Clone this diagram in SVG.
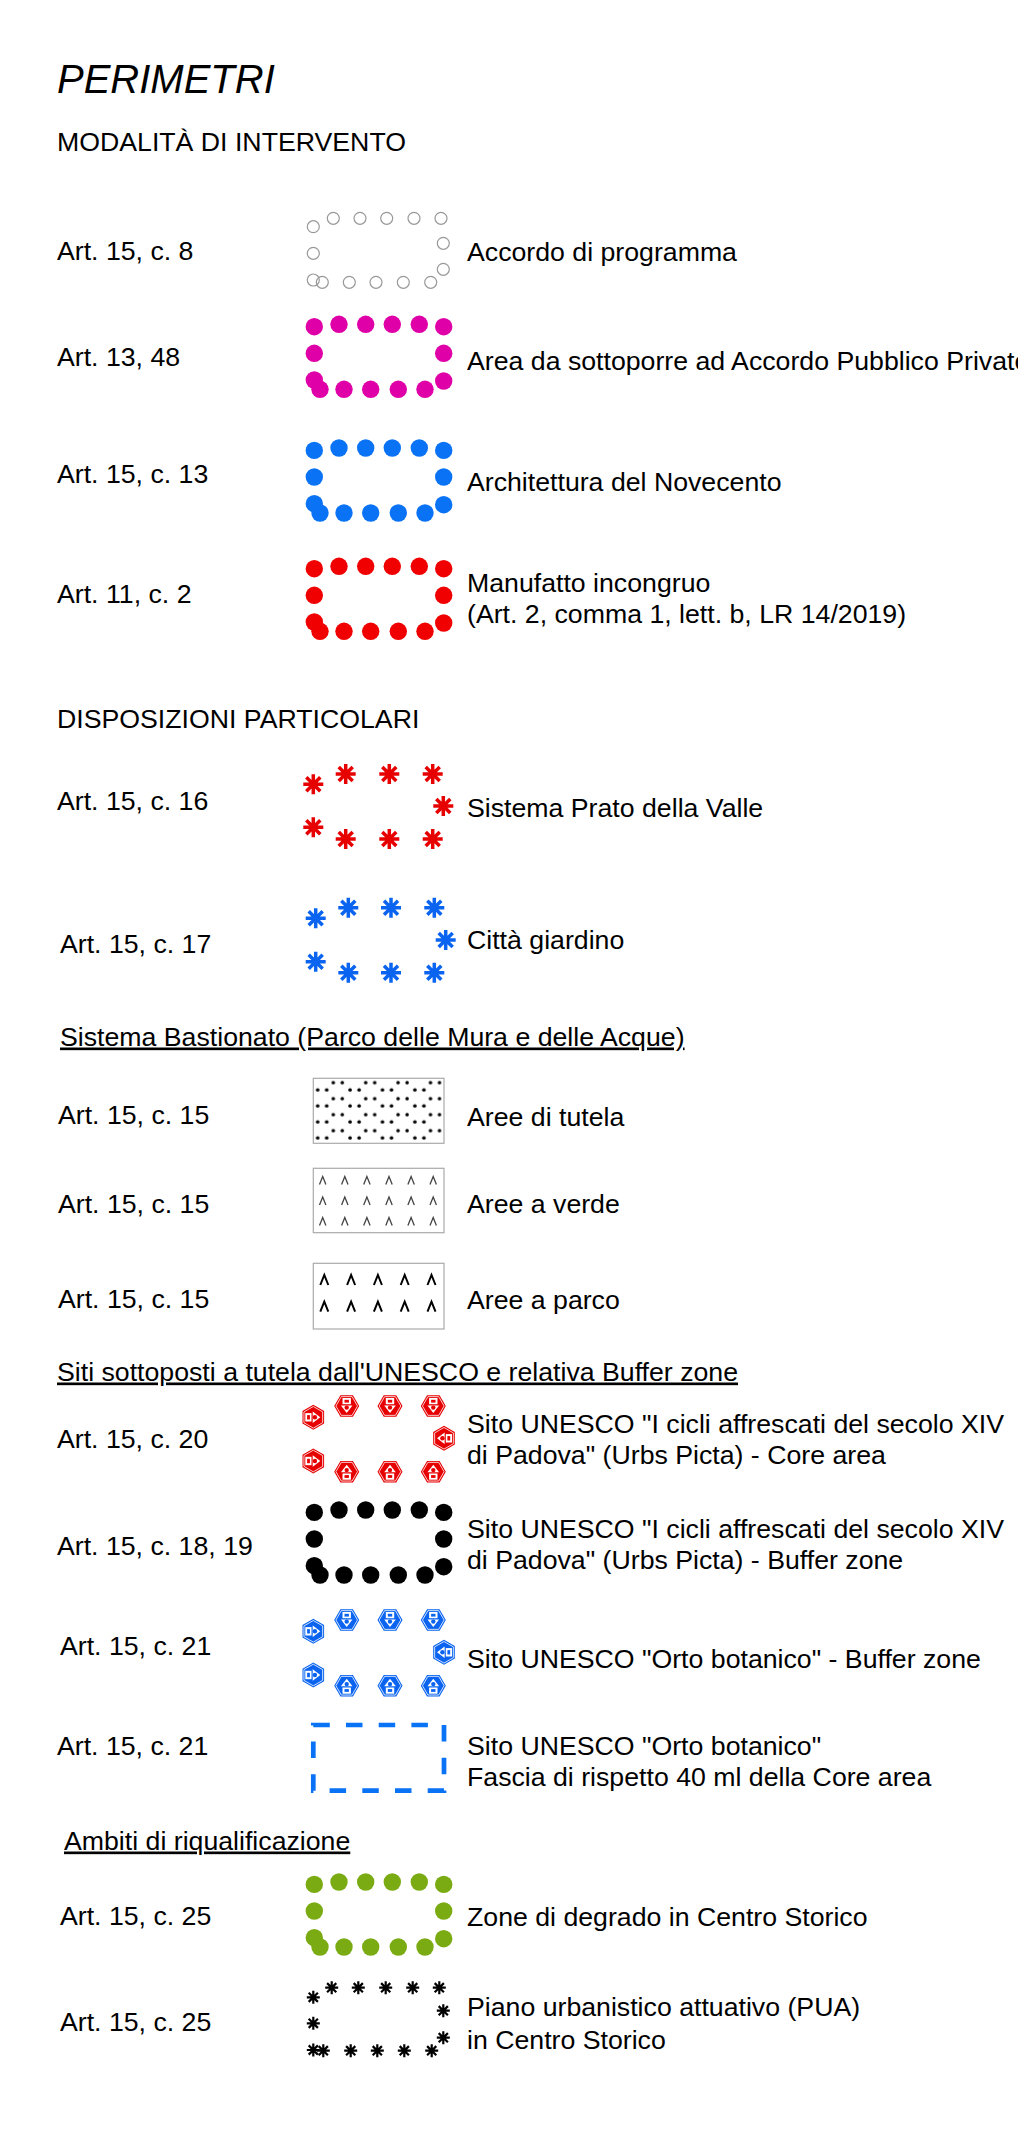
<svg xmlns="http://www.w3.org/2000/svg" xmlns:xlink="http://www.w3.org/1999/xlink" width="1018" height="2130" viewBox="0 0 1018 2130">
<style>
.t{font-family:"Liberation Sans",Arial,sans-serif;font-size:26.7px;fill:#000}
.h{font-style:italic;font-size:40px}
.u{text-decoration:underline}
</style>
<defs>
<g id="ring" >
<circle cx="0" cy="2.4" r="8.7"/><circle cx="0" cy="29" r="8.7"/><circle cx="0" cy="55.7" r="8.7"/>
<circle cx="24.7" cy="0" r="8.7"/><circle cx="51.4" cy="0" r="8.7"/><circle cx="78" cy="0" r="8.7"/><circle cx="105" cy="0" r="8.7"/>
<circle cx="129.4" cy="2.4" r="8.7"/><circle cx="129.4" cy="29" r="8.7"/><circle cx="129.4" cy="56.7" r="8.7"/>
<circle cx="5.7" cy="65" r="8.7"/><circle cx="29.7" cy="65" r="8.7"/><circle cx="56.4" cy="65" r="8.7"/><circle cx="84" cy="65" r="8.7"/><circle cx="110.7" cy="65" r="8.7"/>
</g>
<path id="ast" d="M0,-10V10M-10,0H10M-7,-7L7,7M-7,7L7,-7"/>
<path id="asts" d="M0,-6.5V6.5M-6.5,0H6.5M-4.6,-4.6L4.6,4.6M-4.6,4.6L4.6,-4.6"/>
<g id="hex">
<polygon points="12.5,0 6.25,10.8 -6.25,10.8 -12.5,0 -6.25,-10.8 6.25,-10.8" fill="currentColor"/>
<polygon points="10.8,0 5.4,9.35 -5.4,9.35 -10.8,0 -5.4,-9.35 5.4,-9.35" fill="none" stroke="#fff" stroke-width="0.8"/>
<rect x="-4.2" y="-8" width="8.4" height="6.2" fill="#fff"/>
<rect x="-2.2" y="-6.2" width="4.4" height="2.8" fill="currentColor"/>
<polygon points="-5.8,-0.6 5.8,-0.6 0,7" fill="#fff"/>
<circle cx="0" cy="1.6" r="2.2" fill="currentColor"/>
</g>
<pattern id="dots" patternUnits="userSpaceOnUse" x="313.7" y="1078.7" width="32.4" height="16">
<circle cx="4" cy="11.3" r="1.8" fill="#000"/><circle cx="13" cy="11.3" r="1.8" fill="#000"/>
<circle cx="19.6" cy="4" r="1.8" fill="#000"/><circle cx="28.6" cy="4" r="1.8" fill="#000"/>
</pattern>
<path id="chev" d="M-3.2,4L0,-4L3.2,4" fill="none" stroke="#444" stroke-width="1.3"/>
<path id="chevb" d="M-4,5L0,-5L4,5" fill="none" stroke="#000" stroke-width="2"/>
</defs>

<g id="titles">
<text class="t h" x="57" y="93">PERIMETRI</text>
<text class="t" x="57" y="151">MODALITÀ DI INTERVENTO</text>
<text class="t" x="57" y="727.5">DISPOSIZIONI PARTICOLARI</text>
<text class="t u" x="60" y="1045.5">Sistema Bastionato (Parco delle Mura e delle Acque)</text>
<text class="t u" x="57" y="1380.5">Siti sottoposti a tutela dall'UNESCO e relativa Buffer zone</text>
<text class="t u" x="64" y="1849.5">Ambiti di riqualificazione</text>
</g>

<g id="row1">
<text class="t" x="57" y="259.5">Art. 15, c. 8</text>
<g fill="none" stroke="#999" stroke-width="1.2" transform="translate(313.3,218.3)">
<circle cx="0" cy="8.4" r="6"/><circle cx="0" cy="35" r="6"/><circle cx="0" cy="61.7" r="6"/>
<circle cx="20" cy="0" r="6"/><circle cx="46.7" cy="0" r="6"/><circle cx="73.4" cy="0" r="6"/><circle cx="100.7" cy="0" r="6"/><circle cx="127.7" cy="0" r="6"/>
<circle cx="130" cy="25" r="6"/><circle cx="130" cy="51" r="6"/>
<circle cx="117.4" cy="64" r="6"/><circle cx="90" cy="64" r="6"/><circle cx="62.7" cy="64" r="6"/><circle cx="36" cy="64" r="6"/><circle cx="9" cy="64" r="6"/>
</g>
<text class="t" x="467" y="260.5">Accordo di programma</text>
</g>

<g id="row2">
<text class="t" x="57" y="365.5">Art. 13, 48</text>
<use href="#ring" x="314.3" y="324.3" fill="#e000a8"/>
<text class="t" x="467" y="369.5">Area da sottoporre ad Accordo Pubblico Privato</text>
</g>

<g id="row3">
<text class="t" x="57" y="482.5">Art. 15, c. 13</text>
<use href="#ring" x="314.3" y="448" fill="#0a72f5"/>
<text class="t" x="467" y="490.5">Architettura del Novecento</text>
</g>

<g id="row4">
<text class="t" x="57" y="602.5">Art. 11, c. 2</text>
<use href="#ring" x="314.3" y="566.3" fill="#f00000"/>
<text class="t" x="467" y="591.5">Manufatto incongruo</text>
<text class="t" x="467" y="622.5">(Art. 2, comma 1, lett. b, LR 14/2019)</text>
</g>

<g id="row5">
<text class="t" x="57" y="809.5">Art. 15, c. 16</text>
<g stroke="#e60000" stroke-width="3.5">
<use href="#ast" x="313.3" y="784.3"/><use href="#ast" x="345.7" y="774"/><use href="#ast" x="389.3" y="774"/><use href="#ast" x="432.7" y="774"/>
<use href="#ast" x="443.3" y="806"/><use href="#ast" x="313.3" y="827.3"/>
<use href="#ast" x="345.7" y="839"/><use href="#ast" x="389.3" y="839"/><use href="#ast" x="432.7" y="839"/>
</g>
<text class="t" x="467" y="816.5">Sistema Prato della Valle</text>
</g>

<g id="row6">
<text class="t" x="60" y="952.5">Art. 15, c. 17</text>
<g stroke="#0a64f0" stroke-width="3.5">
<use href="#ast" x="315.7" y="918.3"/><use href="#ast" x="348.3" y="907.7"/><use href="#ast" x="391" y="907.7"/><use href="#ast" x="434.3" y="907.7"/>
<use href="#ast" x="445.7" y="940"/><use href="#ast" x="315.7" y="961.7"/>
<use href="#ast" x="348.3" y="972.7"/><use href="#ast" x="391" y="972.7"/><use href="#ast" x="434.3" y="972.7"/>
</g>
<text class="t" x="467" y="948.5">Città giardino</text>
</g>

<g id="row7">
<text class="t" x="58" y="1123.5">Art. 15, c. 15</text>
<rect x="313.3" y="1078.3" width="130.7" height="65" fill="url(#dots)" stroke="#aaa" stroke-width="1.2"/>
<text class="t" x="467" y="1125.5">Aree di tutela</text>
</g>

<g id="row8">
<text class="t" x="58" y="1212.5">Art. 15, c. 15</text>
<rect x="313.3" y="1168.3" width="130.7" height="64.4" fill="none" stroke="#aaa" stroke-width="1.2"/>
<g>
<use href="#chev" x="322.7" y="1180.5"/><use href="#chev" x="344.8" y="1180.5"/><use href="#chev" x="366.9" y="1180.5"/><use href="#chev" x="389" y="1180.5"/><use href="#chev" x="411.1" y="1180.5"/><use href="#chev" x="433.2" y="1180.5"/>
<use href="#chev" x="322.7" y="1201"/><use href="#chev" x="344.8" y="1201"/><use href="#chev" x="366.9" y="1201"/><use href="#chev" x="389" y="1201"/><use href="#chev" x="411.1" y="1201"/><use href="#chev" x="433.2" y="1201"/>
<use href="#chev" x="322.7" y="1221.5"/><use href="#chev" x="344.8" y="1221.5"/><use href="#chev" x="366.9" y="1221.5"/><use href="#chev" x="389" y="1221.5"/><use href="#chev" x="411.1" y="1221.5"/><use href="#chev" x="433.2" y="1221.5"/>
</g>
<text class="t" x="467" y="1212.5">Aree a verde</text>
</g>

<g id="row9">
<text class="t" x="58" y="1307.5">Art. 15, c. 15</text>
<rect x="313.3" y="1263.3" width="130.7" height="65.7" fill="none" stroke="#aaa" stroke-width="1.2"/>
<g>
<use href="#chevb" x="324.3" y="1280"/><use href="#chevb" x="351.1" y="1280"/><use href="#chevb" x="377.9" y="1280"/><use href="#chevb" x="404.7" y="1280"/><use href="#chevb" x="431.5" y="1280"/>
<use href="#chevb" x="324.3" y="1306.7"/><use href="#chevb" x="351.1" y="1306.7"/><use href="#chevb" x="377.9" y="1306.7"/><use href="#chevb" x="404.7" y="1306.7"/><use href="#chevb" x="431.5" y="1306.7"/>
</g>
<text class="t" x="467" y="1308.5">Aree a parco</text>
</g>

<g id="row10">
<text class="t" x="57" y="1447.5">Art. 15, c. 20</text>
<g color="#e60000">
<use href="#hex" transform="translate(313.3,1417.3) rotate(-90)"/>
<use href="#hex" transform="translate(346.7,1406)"/><use href="#hex" transform="translate(390,1406)"/><use href="#hex" transform="translate(433.3,1406)"/>
<use href="#hex" transform="translate(444,1438.3) rotate(90)"/>
<use href="#hex" transform="translate(313.3,1461) rotate(-90)"/>
<use href="#hex" transform="translate(346.7,1471.7) rotate(180)"/><use href="#hex" transform="translate(390,1471.7) rotate(180)"/><use href="#hex" transform="translate(433.3,1471.7) rotate(180)"/>
</g>
<text class="t" x="467" y="1432.5">Sito UNESCO "I cicli affrescati del secolo XIV</text>
<text class="t" x="467" y="1463.5">di Padova" (Urbs Picta) - Core area</text>
</g>

<g id="row11">
<text class="t" x="57" y="1554.5">Art. 15, c. 18, 19</text>
<use href="#ring" x="314.3" y="1510" fill="#000"/>
<text class="t" x="467" y="1537.5">Sito UNESCO "I cicli affrescati del secolo XIV</text>
<text class="t" x="467" y="1568.5">di Padova" (Urbs Picta) - Buffer zone</text>
</g>

<g id="row12">
<text class="t" x="60" y="1654.5">Art. 15, c. 21</text>
<g color="#0a64f0">
<use href="#hex" transform="translate(313.3,1631.3) rotate(-90)"/>
<use href="#hex" transform="translate(346.7,1620)"/><use href="#hex" transform="translate(390,1620)"/><use href="#hex" transform="translate(433.3,1620)"/>
<use href="#hex" transform="translate(444,1652.3) rotate(90)"/>
<use href="#hex" transform="translate(313.3,1675) rotate(-90)"/>
<use href="#hex" transform="translate(346.7,1685.7) rotate(180)"/><use href="#hex" transform="translate(390,1685.7) rotate(180)"/><use href="#hex" transform="translate(433.3,1685.7) rotate(180)"/>
</g>
<text class="t" x="467" y="1667.5">Sito UNESCO "Orto botanico" - Buffer zone</text>
</g>

<g id="row13">
<text class="t" x="57" y="1754.5">Art. 15, c. 21</text>
<rect x="313.3" y="1725" width="130.7" height="65.7" fill="none" stroke="#0a72f5" stroke-width="4.7" stroke-dasharray="16.5 16.2"/>
<text class="t" x="467" y="1754.5">Sito UNESCO "Orto botanico"</text>
<text class="t" x="467" y="1785.5">Fascia di rispetto 40 ml della Core area</text>
</g>

<g id="row14">
<text class="t" x="60" y="1924.5">Art. 15, c. 25</text>
<use href="#ring" x="314.3" y="1882" fill="#7aab12"/>
<text class="t" x="467" y="1925.5">Zone di degrado in Centro Storico</text>
</g>

<g id="row15">
<text class="t" x="60" y="2030.5">Art. 15, c. 25</text>
<g stroke="#000" stroke-width="2.2" transform="translate(313.3,1987.7)">
<use href="#asts" x="0" y="9.6"/><use href="#asts" x="0" y="35.6"/><use href="#asts" x="0" y="62.3"/>
<use href="#asts" x="18.4" y="0"/><use href="#asts" x="45" y="0"/><use href="#asts" x="72.4" y="0"/><use href="#asts" x="99.4" y="0"/><use href="#asts" x="126" y="0"/>
<use href="#asts" x="130" y="23"/><use href="#asts" x="130" y="50"/>
<use href="#asts" x="118.4" y="63"/><use href="#asts" x="91" y="63"/><use href="#asts" x="64" y="63"/><use href="#asts" x="37.4" y="63"/><use href="#asts" x="10" y="63"/>
</g>
<text class="t" x="467" y="2015.5">Piano urbanistico attuativo (PUA)</text>
<text class="t" x="467" y="2048.5">in Centro Storico</text>
</g>
</svg>
